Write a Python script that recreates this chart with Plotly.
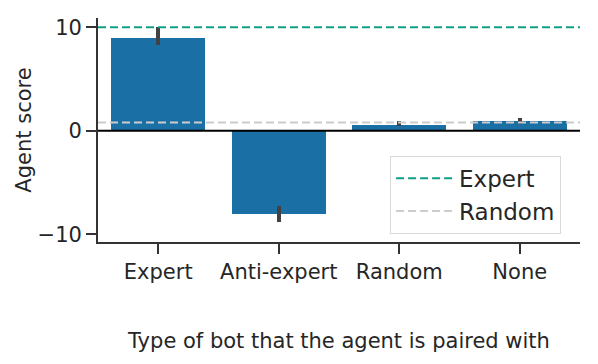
import plotly.graph_objects as go

# ---------- data ----------
bot_types = ["Expert", "Anti-expert", "Random", "None"]
scores = [9.0, -8.0, 0.6, 0.9]
err_high = [10.0, -7.3, 0.9, 1.2]
err_low = [8.3, -8.8, 0.45, 0.7]
expert_ref = 10.0
random_ref = 0.8

positions = list(range(len(bot_types)))
x_span = [-0.5, len(bot_types) - 0.5]

fig = go.Figure()

fig.add_trace(go.Bar(
    x=positions, y=scores, width=0.78,
    marker=dict(color="#1a6fa5", line=dict(width=0)),
    error_y=dict(
        type="data", symmetric=False,
        array=[h - s for h, s in zip(err_high, scores)],
        arrayminus=[s - l for s, l in zip(scores, err_low)],
        color="#424242", thickness=4, width=0,
    ),
    showlegend=False,
))

fig.add_trace(go.Scatter(
    x=x_span, y=[expert_ref] * 2, mode="lines", name="Expert",
    line=dict(color="#109e87", width=2, dash="8px,4px"),
))
fig.add_trace(go.Scatter(
    x=x_span, y=[random_ref] * 2, mode="lines", name="Random",
    line=dict(color="#cccccc", width=2, dash="8px,4px"),
))

# zero line
fig.add_hline(y=0, line=dict(color="black", width=2), layer="above")

# page body has an 8px margin, so the plot box is shifted to compensate
font = "DejaVu Sans, sans-serif"
fig.update_layout(
    width=598, height=364,
    margin=dict(l=90, r=26, t=10, b=130),
    plot_bgcolor="white", paper_bgcolor="white",
    font=dict(family=font, size=21, color="#262626"),
    bargap=0,
    legend=dict(
        x=0.606, y=0.385, xanchor="left", yanchor="top",
        bordercolor="#d9d9d9", borderwidth=1, bgcolor="white",
        font=dict(size=23), itemwidth=58, tracegroupgap=0,
    ),
)
fig.update_xaxes(
    range=x_span, tickvals=positions, ticktext=bot_types, automargin=False,
    showline=True, linecolor="#333333", linewidth=1.8,
    ticks="outside", ticklen=10, tickwidth=1.6, tickcolor="#333333",
    showgrid=False, zeroline=False,
    title=dict(text="Type of bot that the agent is paired with", font=dict(size=21), standoff=50),
)
fig.update_yaxes(
    range=[-10.75, 10.9], tickvals=[-10, 0, 10], ticktext=["\u221210", "0", "10"],
    automargin=False,
    showline=True, linecolor="#333333", linewidth=1.8,
    ticks="outside", ticklen=10, tickwidth=1.6, tickcolor="#333333",
    showgrid=False, zeroline=False,
    title=dict(text="Agent score", font=dict(size=21), standoff=0),
)

fig.write_html("out.html")
